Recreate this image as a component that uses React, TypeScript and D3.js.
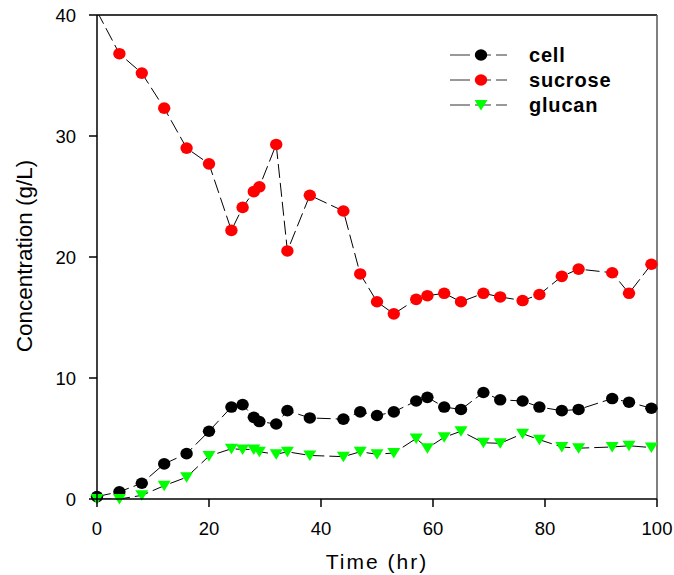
import React from "react";
import * as d3 from "d3";

const times = [0, 4, 8, 12, 16, 20, 24, 26, 28, 29, 32, 34, 38, 44, 47, 50, 53, 57, 59, 62, 65, 69, 72, 76, 79, 83, 86, 92, 95, 99];
const cell = [0.2, 0.6, 1.3, 2.9, 3.75, 5.6, 7.6, 7.8, 6.75, 6.4, 6.2, 7.3, 6.7, 6.6, 7.2, 6.9, 7.2, 8.1, 8.4, 7.6, 7.4, 8.8, 8.2, 8.1, 7.6, 7.3, 7.4, 8.3, 8.0, 7.5];
const sucrose = [40.3, 36.8, 35.2, 32.3, 29.0, 27.7, 22.2, 24.1, 25.4, 25.8, 29.3, 20.5, 25.1, 23.8, 18.6, 16.3, 15.3, 16.5, 16.8, 17.0, 16.3, 17.0, 16.7, 16.4, 16.9, 18.4, 19.0, 18.7, 17.0, 19.4];
const glucan = [0, 0, 0.3, 1.1, 1.8, 3.55, 4.15, 4.1, 4.1, 3.9, 3.7, 3.9, 3.6, 3.5, 3.9, 3.7, 3.8, 5.0, 4.2, 5.1, 5.6, 4.65, 4.6, 5.4, 4.9, 4.3, 4.2, 4.3, 4.4, 4.25];

const xTicks = [0, 20, 40, 60, 80, 100];
const yTicks = [0, 10, 20, 30, 40];
const seriesNames = ["cell", "sucrose", "glucan"];
const seriesColors = ["#000000", "#ff0000", "#00ff00"];
const seriesShapes = ["circle", "circle", "triangle"];

const W = 674;
const H = 575;
const L = 97, R = 657, T = 15, B = 499;

function Marker({ shape, color, x, y }: { shape: string; color: string; x: number; y: number }) {
  if (shape === "circle") {
    return <ellipse cx={x} cy={y} rx={6.2} ry={5.8} fill={color} />;
  }
  return <path d={`M${x - 6.5},${y - 5}L${x + 6.5},${y - 5}L${x},${y + 5.5}Z`} fill={color} />;
}

export default function App() {
  const x = d3.scaleLinear().domain([0, 100]).range([L, R]);
  const y = d3.scaleLinear().domain([0, 40]).range([B, T]);
  const allSeries = [cell, sucrose, glucan];
  const line = d3
    .line<number>()
    .x((_, i) => x(times[i]))
    .y((d) => y(d));

  const font = "Arial, 'Liberation Sans', sans-serif";
  const legendX = 450;
  const legendYs = [55, 80, 105];

  return (
    <svg width={W} height={H} style={{ position: "absolute", left: 0, top: 0 }} fontFamily={font}>
      <defs>
        <clipPath id="plot">
          <rect x={L} y={T} width={R - L} height={B - T} />
        </clipPath>
      </defs>
      <rect x={0} y={0} width={W} height={H} fill="#fff" />
      {/* frame */}
      <line x1={L} y1={T} x2={R} y2={T} stroke="#3a3a3a" strokeWidth={2} />
      <line x1={R} y1={T} x2={R} y2={B} stroke="#555" strokeWidth={1.5} />
      {/* lines */}
      <g clipPath="url(#plot)">
        {allSeries.map((s, k) => (
          <path key={k} d={line(s) || ""} fill="none" stroke="#000" strokeWidth={1} strokeDasharray="14 5" />
        ))}
      </g>
      {/* markers */}
      {allSeries.map((s, k) =>
        s.map((v, i) =>
          v <= 40 ? (
            <Marker key={`${k}-${i}`} shape={seriesShapes[k]} color={seriesColors[k]} x={x(times[i])} y={y(v)} />
          ) : null
        )
      )}
      {/* axes */}
      <line x1={L} y1={T} x2={L} y2={B} stroke="#000" strokeWidth={1.5} />
      <line x1={L} y1={B} x2={R} y2={B} stroke="#000" strokeWidth={1.5} />
      {yTicks.map((t) => (
        <g key={`y${t}`}>
          <line x1={L - 8} y1={y(t)} x2={L} y2={y(t)} stroke="#000" strokeWidth={1.5} />
          <text x={76} y={y(t) + 6.5} textAnchor="end" fontSize={18.5} fill="#000">
            {t}
          </text>
        </g>
      ))}
      {xTicks.map((t) => (
        <g key={`x${t}`}>
          <line x1={x(t)} y1={B} x2={x(t)} y2={B + 8} stroke="#000" strokeWidth={1.5} />
          <text x={x(t)} y={535} textAnchor="middle" fontSize={18.5} fill="#000">
            {t}
          </text>
        </g>
      ))}
      <text x={(L + R) / 2} y={569} textAnchor="middle" fontSize={21} letterSpacing={2} fill="#000">
        Time (hr)
      </text>
      <text
        transform={`translate(32,${(T + B) / 2 - 1}) rotate(-90)`}
        textAnchor="middle"
        fontSize={22.5}
        fill="#000"
      >
        Concentration (g/L)
      </text>
      {/* legend */}
      {seriesNames.map((n, k) => (
        <g key={n}>
          <line
            x1={legendX}
            y1={legendYs[k]}
            x2={legendX + 57}
            y2={legendYs[k]}
            stroke="#333"
            strokeWidth={1}
            strokeDasharray="20 5 16 5"
          />
          <Marker shape={seriesShapes[k]} color={seriesColors[k]} x={481} y={legendYs[k]} />
          <text x={529} y={legendYs[k] + 7} fontSize={20} fontWeight="bold" letterSpacing={0.8} fill="#000">
            {n}
          </text>
        </g>
      ))}
    </svg>
  );
}
